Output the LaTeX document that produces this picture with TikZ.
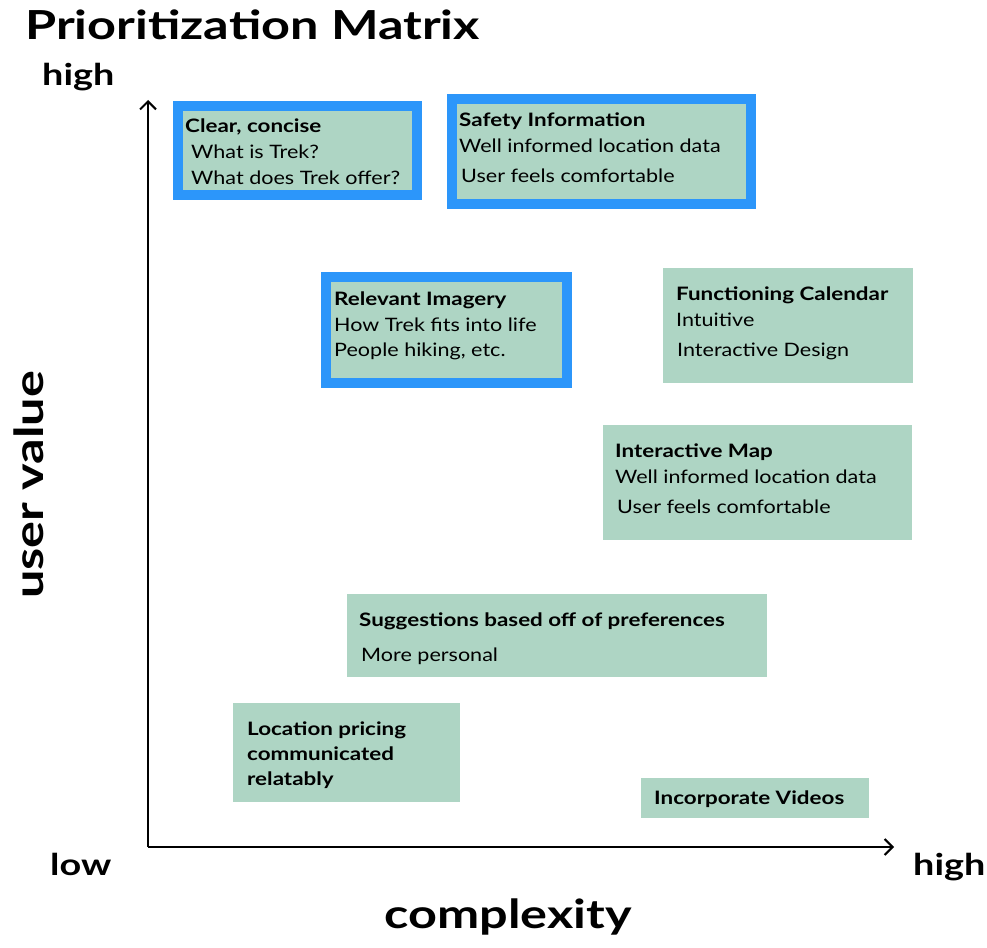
\documentclass[tikz,border=0pt]{standalone}
\usepackage{fontspec}
\setmainfont{Lato}
\newfontfamily\bodyf{Lato}[FakeStretch=1.165]
\newfontfamily\headf{Lato}[FakeStretch=1.21]
\newfontfamily\bigf{Lato}[FakeStretch=1.26]
\usetikzlibrary{arrows.meta}
\definecolor{boxgreen}{RGB}{174,213,196}
\definecolor{boxblue}{RGB}{44,150,250}
\begin{document}
\begin{tikzpicture}[x=1pt,y=-1pt,
  gbox/.style={fill=boxgreen,draw=none},
  bbox/.style={fill=boxgreen,draw=boxblue,line width=10pt},
  head/.style={anchor=base west,inner sep=0pt,font=\headf\fontsize{18.5}{20}\selectfont\bfseries},
  body/.style={anchor=base west,inner sep=0pt,font=\bodyf\fontsize{18.5}{20}\selectfont},
  big/.style={inner sep=0pt,font=\bigf\fontsize{40}{44}\selectfont\bfseries},
  axislbl/.style={inner sep=0pt,font=\bigf\fontsize{30}{34}\selectfont\bfseries},
  axis/.style={line width=2.5pt,-{Straight Barb[length=8pt,width=16pt,line width=2pt]}}]
\useasboundingbox (0,0) rectangle (987,947);
% title
\node[big,anchor=base west] (title) at (25,40) {Prioritization Matrix};
% axes
\coordinate (origin) at (148,847);
\coordinate (ytop) at (148,100);
\coordinate (xend) at (894,847);
\draw[axis] (origin) -- (ytop);
\draw[axis] (origin) -- (xend);
\node[axislbl,anchor=base west] (yhigh) at (42,86) {high};
\node[axislbl,anchor=base west] (low) at (50,875) {low};
\node[axislbl,anchor=base west] (xhigh) at (913,875) {high};
\node[big,anchor=base] (xlabel) at (508,928) {complexity};
\node[big,anchor=base,rotate=90] (ylabel) at (43,485) {user value};
% boxes
\draw[bbox] (178,106) rectangle (417,195);
\draw[bbox] (452,99) rectangle (751,204);
\draw[bbox] (326,277) rectangle (567,383);
\fill[gbox] (663,268) rectangle (913,383);
\fill[gbox] (603,425) rectangle (912,540);
\fill[gbox] (347,594) rectangle (767,677);
\fill[gbox] (233,703) rectangle (460,802);
\fill[gbox] (641,778) rectangle (869,818);
% texts
\node[head] (c1) at (185,132) {Clear, concise};
\node[body] (c2) at (191,158) {What is Trek?};
\node[body] (c3) at (191,184) {What does Trek offer?};
\node[head] (s1) at (459,126) {Safety Information};
\node[body] (s2) at (459,152) {Well informed location data};
\node[body] (s3) at (461,182) {User feels comfortable};
\node[head] (r1) at (334,305) {Relevant Imagery};
\node[body] (r2) at (334,331) {How Trek fits into life};
\node[body] (r3) at (334,356) {People hiking, etc.};
\node[head] (f1) at (676,300) {Functioning Calendar};
\node[body] (f2) at (676,326) {Intuitive};
\node[body] (f3) at (677,356) {Interactive Design};
\node[head] (m1) at (615,457) {Interactive Map};
\node[body] (m2) at (615,483) {Well informed location data};
\node[body] (m3) at (617,513) {User feels comfortable};
\node[head] (p1) at (359,626) {Suggestions based off of preferences};
\node[body] (p2) at (361,661) {More personal};
\node[head] (l1) at (247,735) {Location pricing};
\node[head] (l2) at (247,760) {communicated};
\node[head] (l3) at (247,785) {relatably};
\node[head] (v1) at (654,804) {Incorporate Videos};
\end{tikzpicture}
\end{document}
